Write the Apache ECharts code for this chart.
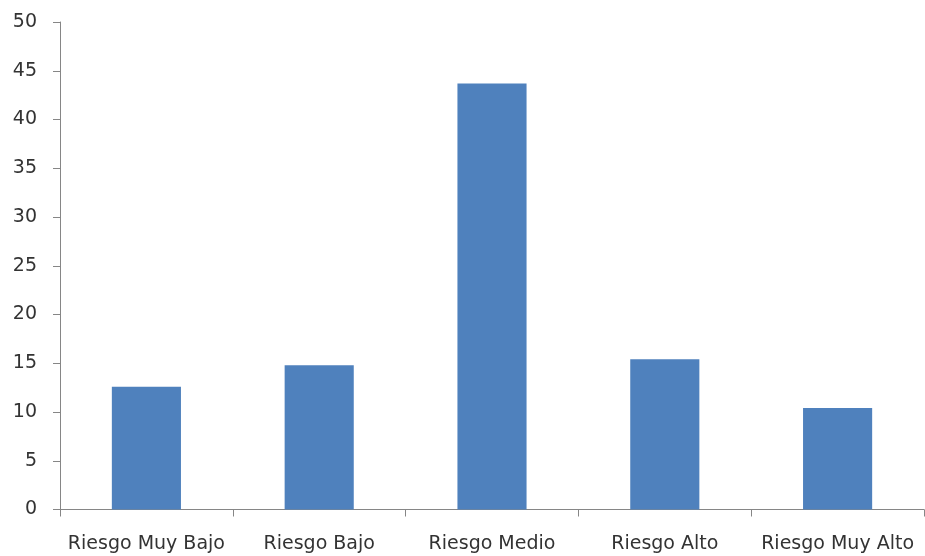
<!DOCTYPE html>
<html>
<head>
<meta charset="utf-8">
<script src="https://cdn.jsdelivr.net/npm/echarts@6/dist/echarts.min.js"></script>
<style>
html,body{margin:0;padding:0;background:#fff;}
#chart{width:925px;height:556px;}
</style>
</head>
<body>
<div id="chart"></div>
<script>
var categories = ["Riesgo Muy Bajo", "Riesgo Bajo", "Riesgo Medio", "Riesgo Alto", "Riesgo Muy Alto"];
var values = [12.6, 14.8, 43.7, 15.4, 10.4];
var yMin = 0, yMax = 50, yInterval = 5;

var chart = echarts.init(document.getElementById('chart'));
var axisLine = {show: true, lineStyle: {color: '#868686', width: 1}};
var labelFont = {color: '#333333', fontSize: 19, fontFamily: '"DejaVu Sans", sans-serif'};
chart.setOption({
  animation: false,
  grid: {left: 60, top: 22, right: 1, bottom: 46.5, containLabel: false},
  xAxis: {
    type: 'category',
    data: categories,
    axisLine: axisLine,
    axisTick: {show: true, length: 7, alignWithLabel: false, lineStyle: {color: '#868686'}},
    axisLabel: Object.assign({margin: 25, interval: 0}, labelFont)
  },
  yAxis: {
    type: 'value',
    min: yMin, max: yMax, interval: yInterval,
    splitLine: {show: false},
    axisLine: axisLine,
    axisTick: {show: true, length: 7, lineStyle: {color: '#868686'}},
    axisLabel: Object.assign({margin: 23}, labelFont)
  },
  series: [{
    type: 'bar',
    data: values,
    barCategoryGap: '60%',
    itemStyle: {color: '#4f81bd'}
  }]
});
</script>
</body>
</html>
